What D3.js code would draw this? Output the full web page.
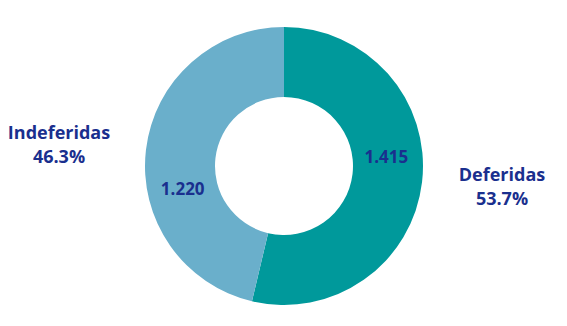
<!DOCTYPE html>
<html>
<head>
<meta charset="utf-8">
<script src="https://cdn.jsdelivr.net/npm/d3@7"></script>
<style>
  body { margin: 0; background: #fff; }
  text { font-family: "Open Sans", sans-serif; font-weight: bold; fill: #1a2f8e; }
</style>
</head>
<body>
<svg width="567" height="326"></svg>
<script>
// dados
var categorias = ["Deferidas", "Indeferidas"];
var valores = [1415, 1220];
var rotulos = ["1.415", "1.220"];
var percentuais = ["53.7%", "46.3%"];
var cores = ["#00999b", "#6aafcb"];

var svg = d3.select("svg"),
    cx = 284, cy = 166,
    raio = 139, raioInterno = 69;

var g = svg.append("g").attr("transform", "translate(" + cx + "," + cy + ")");

var pie = d3.pie().sort(null).value(function (d) { return d; });
var arcos = pie(valores);

var arc = d3.arc().innerRadius(raioInterno).outerRadius(raio);

g.selectAll("path")
    .data(arcos)
    .enter().append("path")
    .attr("d", arc)
    .attr("fill", function (d, i) { return cores[i]; });

// rotulos de valor dentro do anel (deslocados como no original)
var ajusteValor = [[-1, -21], [2, 35]];
g.selectAll(".valor")
    .data(arcos)
    .enter().append("text")
    .attr("class", "valor")
    .attr("text-anchor", "middle")
    .attr("dy", "0.35em")
    .style("font-size", "17px")
    .attr("x", function (d, i) { return arc.centroid(d)[0] + ajusteValor[i][0]; })
    .attr("y", function (d, i) { return arc.centroid(d)[1] + ajusteValor[i][1]; })
    .text(function (d, i) { return rotulos[i]; });

// rotulos externos (categoria + percentual)
var posExterna = [[502, 175], [59, 133]];
categorias.forEach(function (c, i) {
    var t = svg.append("text")
        .attr("text-anchor", "middle")
        .attr("x", posExterna[i][0])
        .attr("y", posExterna[i][1])
        .attr("dy", "0.35em")
        .style("font-size", "18px");
    t.append("tspan").text(c);
    t.append("tspan").attr("x", posExterna[i][0]).attr("dy", "24px").text(percentuais[i]);
});
</script>
</body>
</html>
